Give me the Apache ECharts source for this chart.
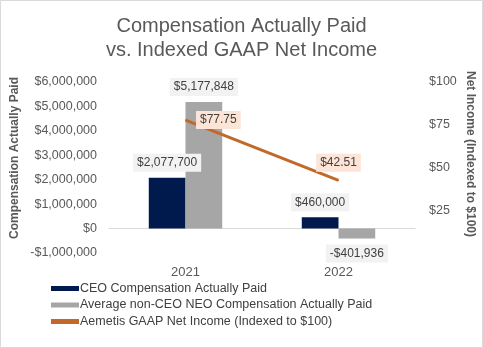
<!DOCTYPE html>
<html><head><meta charset="utf-8">
<script src="https://cdn.jsdelivr.net/npm/echarts@6/dist/echarts.min.js"></script>
<style>html,body{margin:0;padding:0;background:#fff}#c{width:483px;height:348px}</style>
</head><body><div id="c"></div>
<script>
const categories = ['2021', '2022'];
const ceoComp = [2077700, 460000];
const neoComp = [5177848, -401936];
const netIncomeIndexed = [77.75, 42.51];
const seriesNames = ['CEO Compensation Actually Paid', 'Average non-CEO NEO Compensation Actually Paid', 'Aemetis GAAP Net Income (Indexed to $100)'];
const leftAxisName = 'Compensation Actually Paid';
const rightAxisName = 'Net Income (Indexed to $100)';

const FONT = 'Liberation Sans, Arial, sans-serif';
const money = v => (v < 0 ? '-$' : '$') + Math.abs(v).toLocaleString('en-US');
const chart = echarts.init(document.getElementById('c'));
const barLabel = {
  show: true, position: 'top', distance: 6, formatter: p => money(p.value),
  color: '#404040', fontFamily: FONT, fontSize: 12, backgroundColor: '#F2F2F2', padding: [3, 4]
};
const lineLabelPos = [{ position: 'right', distance: 10 }, { position: 'top', distance: 8 }];
const axisNameStyle = { fontFamily: FONT, fontSize: 12, fontWeight: 'bold', fill: '#595959', align: 'center', verticalAlign: 'middle' };
chart.setOption({
  animation: false,
  title: {
    text: 'Compensation Actually Paid\nvs. Indexed GAAP Net Income',
    left: 'center', top: 9,
    textStyle: { fontFamily: FONT, fontSize: 20, fontWeight: 'normal', color: '#595959', lineHeight: 24 }
  },
  graphic: [
    { type: 'rect', shape: { x: 0.5, y: 0.5, width: 482, height: 347 }, style: { fill: 'none', stroke: '#D9D9D9', lineWidth: 1 } },
    { type: 'text', x: 15, y: 158, rotation: Math.PI / 2, style: Object.assign({ text: leftAxisName }, axisNameStyle) },
    { type: 'text', x: 470, y: 154, rotation: -Math.PI / 2, style: Object.assign({ text: rightAxisName }, axisNameStyle) }
  ],
  grid: { left: 109, right: 68, top: 82, bottom: 95, containLabel: false, outerBoundsMode: 'none' },
  legend: {
    orient: 'vertical', left: 46, top: 277, itemGap: 3.5, itemWidth: 28, itemHeight: 5,
    textStyle: { fontFamily: FONT, fontSize: 12.5, color: '#404040', padding: [0, 0, 0, -4] },
    data: [
      { name: seriesNames[0], icon: 'rect' },
      { name: seriesNames[1], icon: 'rect' },
      { name: seriesNames[2], icon: 'rect' }
    ]
  },
  xAxis: {
    type: 'category', data: categories,
    axisLine: { onZero: true, lineStyle: { color: '#D9D9D9' } },
    axisTick: { show: false },
    axisLabel: { color: '#595959', fontFamily: FONT, fontSize: 13, margin: 13 }
  },
  yAxis: [{
    type: 'value', min: -1000000, max: 6000000, interval: 1000000,
    splitLine: { show: false }, axisLine: { show: false }, axisTick: { show: false },
    axisLabel: { color: '#595959', fontFamily: FONT, fontSize: 12.5, margin: 12, formatter: v => money(v) }
  }, {
    type: 'value', min: 0, max: 100, interval: 25,
    splitLine: { show: false }, axisLine: { show: false }, axisTick: { show: false },
    axisLabel: { color: '#595959', fontFamily: FONT, fontSize: 12.5, margin: 14, formatter: v => v === 0 ? '' : '$' + v }
  }],
  series: [{
    name: seriesNames[0], type: 'bar', data: ceoComp, barGap: '0%', barCategoryGap: '52%',
    itemStyle: { color: '#001A4D' }, label: barLabel
  }, {
    name: seriesNames[1], type: 'bar',
    data: neoComp.map(v => v < 0 ? { value: v, label: { position: 'bottom' } } : v),
    itemStyle: { color: '#A6A6A6' }, label: barLabel
  }, {
    name: seriesNames[2], type: 'line', yAxisIndex: 1,
    data: netIncomeIndexed.map((v, i) => ({ value: v, label: lineLabelPos[i] })),
    symbol: 'circle', symbolSize: 1, showSymbol: true,
    lineStyle: { color: '#C0692B', width: 3 }, itemStyle: { color: '#C0692B' },
    label: {
      show: true, formatter: p => '$' + Number(p.value).toFixed(2), color: '#404040', fontFamily: FONT, fontSize: 12,
      backgroundColor: '#FCE4D6', padding: [3, 4]
    }
  }]
});
</script></body></html>
